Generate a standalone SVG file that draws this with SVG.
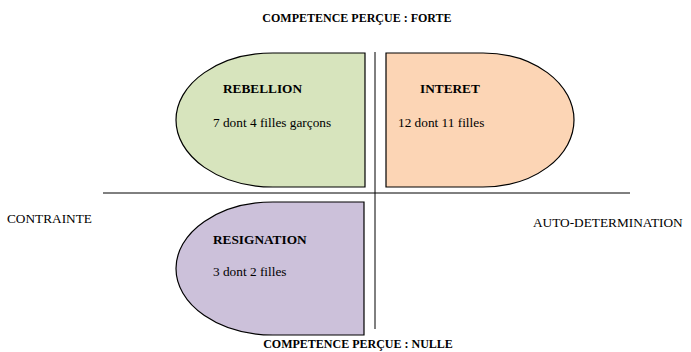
<svg xmlns="http://www.w3.org/2000/svg" width="691" height="352" viewBox="0 0 691 352">
<style>
text{font-family:"Liberation Serif","Times New Roman",serif;fill:#000;font-size:13.3px}
.b{font-weight:bold;font-size:13.3px}
.t{font-weight:bold;font-size:12px}
.shape{stroke:#000;stroke-width:1.2}
.axis{stroke:#000;stroke-width:1}
</style>
<rect width="691" height="352" fill="#fff"/>
<g id="axes">
<line class="axis" x1="103" y1="193" x2="630" y2="193"/>
<line class="axis" x1="375" y1="52" x2="375" y2="329"/>
</g>
<g id="rebellion">
<path class="shape" fill="#d7e4bd" d="M365,53 L273,53 A97,67 0 0 0 273,187 L365,187 Z"/>
<text class="b" x="223" y="93">REBELLION</text>
<text x="213" y="127">7 dont 4 filles garçons</text>
</g>
<g id="interet">
<path class="shape" fill="#fcd5b5" d="M386,53 L483,53 A91,67 0 0 1 483,187 L386,187 Z"/>
<text class="b" x="420" y="93">INTERET</text>
<text x="398" y="127">12 dont 11 filles</text>
</g>
<g id="resignation">
<path class="shape" fill="#ccc1da" d="M364,202 L273,202 A97,66.5 0 0 0 273,335 L364,335 Z"/>
<text class="b" x="213" y="244">RESIGNATION</text>
<text x="213" y="276">3 dont 2 filles</text>
</g>
<g id="labels">
<text class="t" x="357" y="22" text-anchor="middle">COMPETENCE PERÇUE : FORTE</text>
<text class="t" x="358" y="348" text-anchor="middle">COMPETENCE PERÇUE : NULLE</text>
<text x="7" y="223">CONTRAINTE</text>
<text x="533" y="227">AUTO-DETERMINATION</text>
</g>
</svg>
